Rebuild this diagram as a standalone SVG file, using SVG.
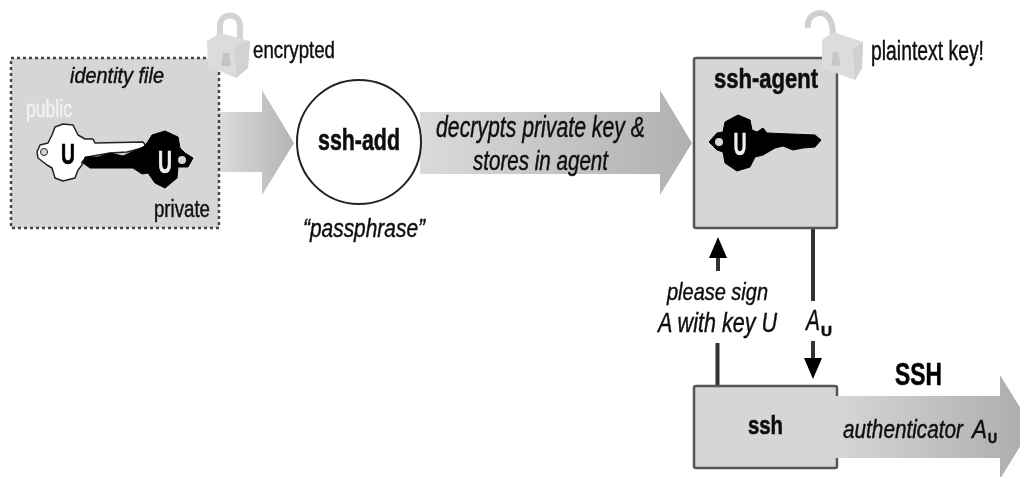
<svg xmlns="http://www.w3.org/2000/svg" width="1020" height="477" viewBox="0 0 1020 477">
<style>
text{font-family:"Liberation Sans",Arial,sans-serif;fill:#111;stroke:#111;stroke-width:.45;font-size:21px}
.i{font-style:italic}
.b{font-weight:bold;stroke-width:.6}
.box{fill:#d6d6d6;stroke:#555;stroke-width:2.5}
.ln{stroke:#333;stroke-width:4;fill:none}
.k{fill:#000}
.w{fill:#eee;stroke:#eee}
</style>
<defs>
<linearGradient id="g1" gradientUnits="userSpaceOnUse" x1="219" y1="0" x2="294" y2="0"><stop offset="0" stop-color="#dcdcdc"/><stop offset="1" stop-color="#b4b4b4"/></linearGradient>
<linearGradient id="g2" gradientUnits="userSpaceOnUse" x1="420" y1="0" x2="692" y2="0"><stop offset="0" stop-color="#dadada"/><stop offset="1" stop-color="#b0b0b0"/></linearGradient>
<linearGradient id="g3" gradientUnits="userSpaceOnUse" x1="837" y1="0" x2="1020" y2="0"><stop offset="0" stop-color="#d6d6d6"/><stop offset="1" stop-color="#aeaeae"/></linearGradient>
<filter id="s" x="-5%" y="-5%" width="110%" height="110%"><feGaussianBlur stdDeviation="0.6"/></filter>
</defs>
<g filter="url(#s)">
<g id="connectors">
<polygon points="219,112 262,112 262,90 294,143 262,195 262,172 219,172" fill="url(#g1)"/>
<polygon points="420,112 660,112 660,90 692,143 660,195 660,174 420,174" fill="url(#g2)"/>
<polygon points="837,396 1000,396 1000,375 1032,427 1000,479 1000,458 837,458" fill="url(#g3)"/>
<path class="ln" d="M717.500 386V343"/>
<path class="ln" d="M718 271V250"/>
<polygon points="718,237 727,258 709,258" fill="#000"/>
<path class="ln" d="M813 228V301"/>
<path class="ln" d="M813 341V362"/>
<polygon points="804,358 822,358 813,379" fill="#000"/>
</g>
<g id="identity-file">
<rect x="11" y="58" width="208" height="170" fill="#d6d6d6" stroke="#444" stroke-width="2.500" stroke-dasharray="3 3"/>
<text class="i" x="70" y="83" textLength="94" lengthAdjust="spacingAndGlyphs" style="font-size:22px">identity file</text>
<text x="26" y="117" textLength="46" lengthAdjust="spacingAndGlyphs" style="font-size:23px;fill:#f2f2f2;stroke:#f2f2f2">public</text>
<text x="154" y="217" textLength="56" lengthAdjust="spacingAndGlyphs" style="font-size:23px">private</text>
<path d="M52 135L55 127L63 124L73 125L78 135L85 139L93 139L95 143L143 142L147 147L127 152L110 153L87 157L82 162L82 165L78 170L75 178L63 181L55 178L52 168L47 165L38 158L37 152L40 145L48 143Z" fill="#fff" stroke="#222" stroke-width="1.500" stroke-linejoin="round"/>
<circle cx="44" cy="152" r="3.500" fill="#d6d6d6" stroke="#222"/>
<path class="k" d="M147 143L152 135L165 131L178 137L180 148L185 153L193 158L188 167L178 167L177 178L165 188L155 183L148 173L142 174L133 168L90 168L83 163L85 157L98 157L110 153L123 156L143 147Z" stroke="#000" stroke-linejoin="round"/>
<circle cx="182" cy="160" r="4" fill="#d6d6d6"/>
<text class="b" x="68" y="164" text-anchor="middle" style="font-size:29px;fill:#000;stroke:#000" textLength="14" lengthAdjust="spacingAndGlyphs">U</text>
<text class="b w" x="165" y="173" text-anchor="middle" style="font-size:32px" textLength="14" lengthAdjust="spacingAndGlyphs">U</text>
</g>
<g id="lock-closed">
<path d="M220 40V26C220 12 240 12 240 26V40" fill="none" stroke="#d4d4d4" stroke-width="6"/>
<polygon points="207,41 220,33 250,41 248,68 236,78 208,66" fill="#dcdcdc"/>
<polygon points="235,46 250,41 248,68 236,78" fill="#d2d2d2"/>
<path d="M223 53H229L231 66H221Z" fill="#c4c4c4"/>
</g>
<text id="label-encrypted" x="253" y="58" textLength="82" lengthAdjust="spacingAndGlyphs" style="font-size:24px">encrypted</text>
<g id="ssh-add">
<circle cx="359" cy="142" r="62" fill="#fff" stroke="#222" stroke-width="2"/>
<text class="b" x="318" y="150" style="font-size:30px" textLength="82" lengthAdjust="spacingAndGlyphs">ssh-add</text>
</g>
<text class="i" id="label-passphrase" x="303" y="237" textLength="122" lengthAdjust="spacingAndGlyphs" style="font-size:26px">“passphrase”</text>
<text class="i" x="436" y="137" textLength="209" lengthAdjust="spacingAndGlyphs" style="font-size:29px">decrypts private key &amp;</text>
<text class="i" x="473" y="170" textLength="135" lengthAdjust="spacingAndGlyphs" style="font-size:27px">stores in agent</text>
<g id="ssh-agent">
<rect class="box" x="694" y="58" width="143" height="170" rx="2"/>
<text class="b" x="714" y="88" style="font-size:28px" textLength="104" lengthAdjust="spacingAndGlyphs">ssh-agent</text>
<path class="k" d="M738 115L725 122L723 132L717 133L709 142L717 150L723 152L725 163L737 171L750 167L755 157L763 155L775 148L783 146L793 150L803 148L815 147L821 140L815 135L767 133L763 128L757 132L752 130L750 120Z" stroke="#000" stroke-linejoin="round"/>
<circle cx="719" cy="142" r="4" fill="#d6d6d6"/>
<text class="b w" x="740" y="155" text-anchor="middle" style="font-size:31px" textLength="13" lengthAdjust="spacingAndGlyphs">U</text>
</g>
<g id="lock-open">
<path d="M808 28C806 14 822 8 829 18C833 24 833 30 833 40" fill="none" stroke="#d0d0d0" stroke-width="6"/>
<polygon points="822,40 833,32 863,42 862,68 855,80 822,68" fill="#dcdcdc"/>
<polygon points="853,49 863,42 862,68 855,80" fill="#d0d0d0"/>
<path d="M833 52H838L841 66H831Z" fill="#c8c8c8"/>
</g>
<text id="label-plaintext" x="871" y="60" textLength="113" lengthAdjust="spacingAndGlyphs" style="font-size:27px">plaintext key!</text>
<text class="i" x="667" y="300" textLength="101" lengthAdjust="spacingAndGlyphs" style="font-size:24px">please sign</text>
<text class="i" x="658" y="332" textLength="119" lengthAdjust="spacingAndGlyphs" style="font-size:28px">A with key U</text>
<text class="i" x="806" y="330" textLength="14" lengthAdjust="spacingAndGlyphs" style="font-size:30px">A</text>
<text class="b" x="821" y="336" textLength="11" lengthAdjust="spacingAndGlyphs" style="font-size:15px">U</text>
<g id="ssh">
<rect class="box" x="694" y="386" width="143" height="82" rx="2"/>
<rect x="830" y="396" width="10" height="62" fill="#d6d6d6"/>
<text class="b" x="748" y="434" style="font-size:26px" textLength="35" lengthAdjust="spacingAndGlyphs">ssh</text>
</g>
<text class="b" x="895" y="385" style="font-size:32px;fill:#000" textLength="47" lengthAdjust="spacingAndGlyphs">SSH</text>
<text class="i" x="843" y="438" textLength="120" lengthAdjust="spacingAndGlyphs" style="font-size:25px">authenticator</text>
<text class="i" x="972" y="438" textLength="15" lengthAdjust="spacingAndGlyphs" style="font-size:25px">A</text>
<text class="b" x="988" y="443" textLength="9" lengthAdjust="spacingAndGlyphs" style="font-size:15px">U</text>
</g>
</svg>
